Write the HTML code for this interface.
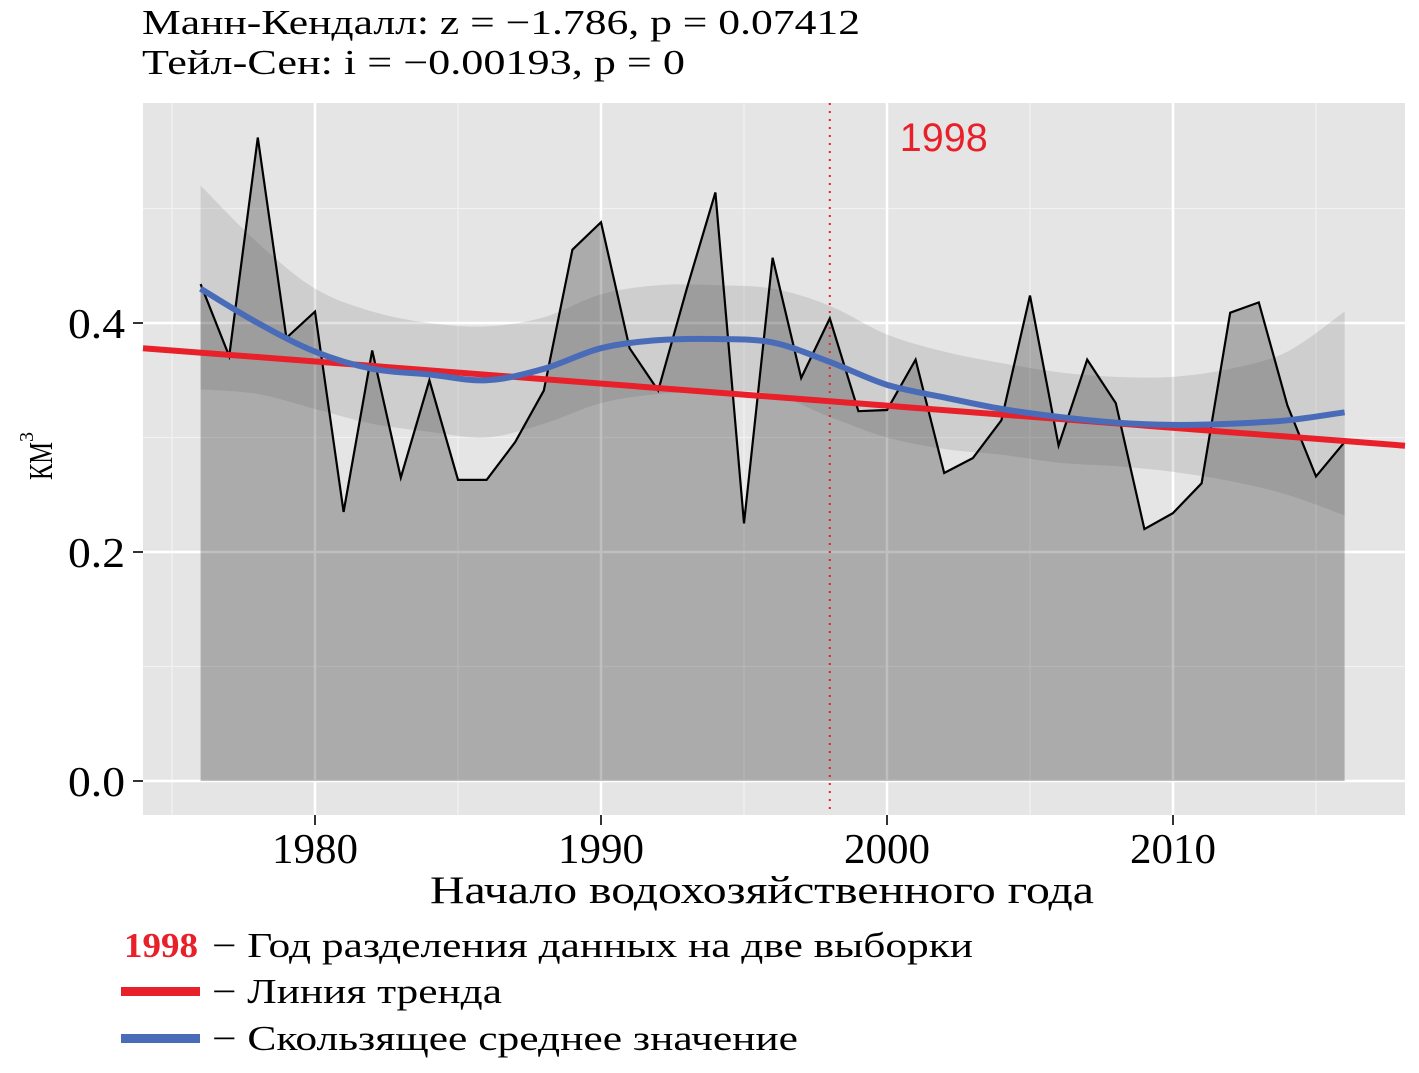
<!DOCTYPE html>
<html><head><meta charset="utf-8">
<style>
html,body{margin:0;padding:0;background:#fff;}
svg{display:block;font-family:"Liberation Serif","DejaVu Serif",serif;}
</style></head>
<body>
<svg id="chart" width="1419" height="1073" viewBox="0 0 1419 1073" xmlns="http://www.w3.org/2000/svg">
  <text x="142" y="34" font-size="35" textLength="718" lengthAdjust="spacingAndGlyphs">Манн-Кендалл: z = −1.786, p = 0.07412</text>
  <text x="142" y="74" font-size="35" textLength="543" lengthAdjust="spacingAndGlyphs">Тейл-Сен: i = −0.00193, p = 0</text>
  <rect x="143" y="103" width="1262" height="712" fill="#e5e5e5"/>
  <g id="grid"></g>
  <g id="marks"></g>
  <g id="axes"></g>
  <text x="430" y="903" font-size="39" textLength="664" lengthAdjust="spacingAndGlyphs">Начало водохозяйственного года</text>
  <text transform="translate(52,480) rotate(-90)" font-size="34" textLength="38" lengthAdjust="spacingAndGlyphs">КМ</text>
  <text transform="translate(33,442) rotate(-90)" font-size="20">3</text>
  <g>
    <g>
      <text x="124" y="957" font-size="35" font-weight="bold" fill="#e8202a" textLength="74" lengthAdjust="spacingAndGlyphs">1998</text>
      <text x="212" y="957" font-size="35" textLength="761" lengthAdjust="spacingAndGlyphs">− Год разделения данных на две выборки</text>
    </g>
    <g>
      <rect x="121" y="987" width="79" height="9" fill="#e8202a"/>
      <text x="212" y="1003" font-size="35" textLength="290" lengthAdjust="spacingAndGlyphs">− Линия тренда</text>
    </g>
    <g>
      <rect x="121" y="1034" width="79" height="9" fill="#4a6cb8"/>
      <text x="212" y="1050" font-size="35" textLength="586" lengthAdjust="spacingAndGlyphs">− Скользящее среднее значение</text>
    </g>
  </g>
</svg>
<script>
const years = [];
for (let y = 1976; y <= 2016; y++) years.push(y);
const values = [0.434,0.371,0.562,0.387,0.410,0.235,0.376,0.265,0.350,0.263,0.263,0.296,0.341,0.464,0.488,0.378,0.341,0.430,0.514,0.225,0.457,0.352,0.404,0.323,0.324,0.368,0.269,0.282,0.315,0.424,0.293,0.368,0.330,0.220,0.234,0.260,0.409,0.418,0.328,0.266,0.296];
const smoothYears = [1976,1978,1980,1982,1984,1986,1988,1990,1992,1994,1996,1998,2000,2002,2004,2006,2008,2010,2012,2014,2016];
const smoothMean = [0.430,0.400,0.375,0.360,0.355,0.350,0.360,0.378,0.385,0.386,0.383,0.366,0.346,0.335,0.325,0.318,0.313,0.311,0.312,0.315,0.322];
const smoothUpper = [0.520,0.470,0.430,0.410,0.400,0.397,0.405,0.425,0.433,0.433,0.430,0.415,0.390,0.375,0.365,0.357,0.353,0.353,0.360,0.375,0.410];
const smoothLower = [0.342,0.338,0.325,0.312,0.305,0.300,0.312,0.330,0.338,0.340,0.338,0.318,0.300,0.290,0.285,0.278,0.275,0.270,0.262,0.250,0.232];
const trendStartYear = 1974.5, trendStartValue = 0.377, trendSlope = -0.00193;
const splitYear = 1998;
const xTicks = [1980,1990,2000,2010];
const xMinor = [1975,1985,1995,2005,2015];
const yTicks = [0.0,0.2,0.4];
const yTickLabels = ["0.0","0.2","0.4"];
const yMinor = [0.1,0.3,0.5];

const NS = "http://www.w3.org/2000/svg";
const X = yr => 315 + (yr - 1980) * 28.6;
const Y = v => 781 - v * 1145;
const invX = px => (px - 315) / 28.6 + 1980;
function mk(tag, attrs, parent) {
  const e = document.createElementNS(NS, tag);
  for (const k in attrs) e.setAttribute(k, attrs[k]);
  parent.appendChild(e);
  return e;
}
const grid = document.getElementById('grid');
const marks = document.getElementById('marks');
const axes = document.getElementById('axes');

xMinor.forEach(t => {
  const l = mk('line', {x1: X(t), x2: X(t), y1: 103, y2: 815, stroke: '#f2f2f2', 'stroke-width': 1.2}, grid);
  
  
});
yMinor.forEach(t => {
  const l = mk('line', {x1: 143, x2: 1405, y1: Y(t), y2: Y(t), stroke: '#f2f2f2', 'stroke-width': 1.2}, grid);
  
  
});
xTicks.forEach(t => {
  const l = mk('line', {x1: X(t), x2: X(t), y1: 103, y2: 815, stroke: '#ffffff', 'stroke-width': 2.5}, grid);
  
  
});
yTicks.forEach(t => {
  const l = mk('line', {x1: 143, x2: 1405, y1: Y(t), y2: Y(t), stroke: '#ffffff', 'stroke-width': 2.5}, grid);
  
  
});

let d = 'M' + X(years[0]) + ',' + Y(0);
years.forEach((yr, i) => { d += ' L' + X(yr) + ',' + Y(values[i]); });
d += ' L' + X(years[years.length - 1]) + ',' + Y(0) + ' Z';
const area = mk('path', {d: d, fill: '#000', 'fill-opacity': 0.25}, marks);



function smoothPath(xs, vs, move) {
  const pts = xs.map((x, i) => [X(x), Y(vs[i])]);
  let s = (move ? 'M' : 'L') + pts[0][0] + ',' + pts[0][1];
  for (let i = 0; i < pts.length - 1; i++) {
    const p0 = pts[Math.max(0, i - 1)], p1 = pts[i], p2 = pts[i + 1], p3 = pts[Math.min(pts.length - 1, i + 2)];
    const c1 = [p1[0] + (p2[0] - p0[0]) / 6, p1[1] + (p2[1] - p0[1]) / 6];
    const c2 = [p2[0] - (p3[0] - p1[0]) / 6, p2[1] - (p3[1] - p1[1]) / 6];
    s += ' C' + c1[0] + ',' + c1[1] + ' ' + c2[0] + ',' + c2[1] + ' ' + p2[0] + ',' + p2[1];
  }
  return s;
}
const bandD = smoothPath(smoothYears, smoothUpper, true) + ' ' +
  smoothPath(smoothYears.slice().reverse(), smoothLower.slice().reverse(), false) + ' Z';
const band = mk('path', {d: bandD, fill: '#555', 'fill-opacity': 0.16}, marks);



const vl = mk('line', {x1: X(splitYear), x2: X(splitYear), y1: 103, y2: 815, stroke: '#e8202a', 'stroke-width': 2, 'stroke-dasharray': '2,6'}, marks);


const vt = mk('text', {x: X(splitYear) + 70, y: 151, 'font-size': 40, fill: '#e8202a', 'font-family': '"Liberation Sans", sans-serif', textLength: 88, lengthAdjust: 'spacingAndGlyphs'}, marks);
vt.textContent = String(splitYear);



let ld = '';
years.forEach((yr, i) => { ld += (i ? ' L' : 'M') + X(yr) + ',' + Y(values[i]); });
const line = mk('path', {d: ld, fill: 'none', stroke: '#000', 'stroke-width': 2.2, 'stroke-linejoin': 'miter'}, marks);



const tv = px => trendStartValue + trendSlope * (invX(px) - trendStartYear);
const tl = mk('line', {x1: 143, y1: Y(tv(143)), x2: 1405, y2: Y(tv(1405)), stroke: '#e8202a', 'stroke-width': 6}, marks);



const ma = mk('path', {d: smoothPath(smoothYears, smoothMean, true), fill: 'none', stroke: '#4a6cb8', 'stroke-width': 6}, marks);



yTicks.forEach((t, i) => {
  const tk = mk('line', {x1: 133, x2: 143, y1: Y(t), y2: Y(t), stroke: '#333', 'stroke-width': 2}, axes);
  
  
  const lb = mk('text', {x: 125, y: Y(t) + 15, 'font-size': 42, 'text-anchor': 'end', textLength: 57, lengthAdjust: 'spacingAndGlyphs'}, axes);
  lb.textContent = yTickLabels[i];
  
  
});
xTicks.forEach(t => {
  const tk = mk('line', {x1: X(t), x2: X(t), y1: 815, y2: 825, stroke: '#333', 'stroke-width': 2}, axes);
  
  
  const lb = mk('text', {x: X(t) - 43, y: 863, 'font-size': 42, textLength: 86, lengthAdjust: 'spacingAndGlyphs'}, axes);
  lb.textContent = String(t);
  
  
});
</script>
</body></html>
